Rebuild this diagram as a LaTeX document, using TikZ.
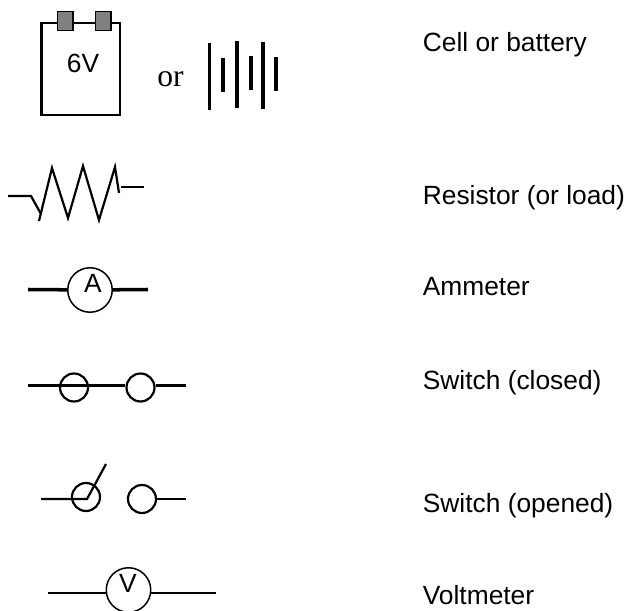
\documentclass[tikz,border=0pt]{standalone}
\usepackage{fontspec}
\setmainfont{Liberation Sans}
\newfontfamily\orfont{Liberation Serif}
\tikzset{
    wire/.style={line width=1.25pt, line cap=butt},
    meter/.style={circle, draw, line width=0.85pt, minimum size=0.89cm, inner sep=0pt},
    contact/.style={circle, draw, line width=1.25pt, minimum size=0.56cm, inner sep=0pt},
    caption/.style={anchor=base west, inner sep=0pt, font=\fontsize{15}{18}\selectfont},
    symboltext/.style={inner sep=0pt, font=\fontsize{15}{18}\selectfont},
    terminal/.style={draw, fill=black!50, line width=0.85pt, minimum width=0.31cm, minimum height=0.38cm, inner sep=0pt}
}
\begin{document}
\begin{tikzpicture}[x=0.02cm, y=-0.02cm]
        \useasboundingbox (0, 0) rectangle (629, 611);

        % Battery
        \node[draw, line width=1.25pt, minimum width=1.57cm, minimum height=1.84cm, inner sep=0pt] (cell) at (80.8, 69) {};
        \node[terminal] (T1) at (65.3, 20.8) {};
        \node[terminal] (T2) at (103.3, 20.8) {};
        \node[symboltext] (volts) at (83, 63) {6V};
        \node[anchor=base, inner sep=0pt, font=\orfont\fontsize{18}{21}\selectfont] (or) at (170.5, 87) {or};

        % Bars
        \foreach \x/\top/\bot in {209.5/43/110, 223/58/92, 237/41/108, 251/56/90, 263/42/109, 276/57/91}
            \draw[line width=2.2pt] (\x, \top) -- (\x, \bot);

        % Resistor
        \coordinate (R0) at (8, 196);
        \coordinate (R1) at (31, 196);
        \coordinate (R2) at (41, 214);
        \coordinate (R3) at (39, 221);
        \coordinate (R4) at (119, 193);
        \coordinate (R5) at (121, 187);
        \coordinate (R6) at (144, 187);
        \draw[wire] (R0) -- (R1) -- (R2);
        \draw[wire] (R3) -- (52, 168) -- (68, 218) -- (83, 166) -- (99, 220) -- (115, 167) -- (R4);
        \draw[wire] (R5) -- (R6);

        % Ammeter
        \node[meter] (A) at (90, 290) {};
        \node[symboltext] (Atext) at (93, 283) {A};
        \coordinate (AL) at (28, 289.5);
        \coordinate (AR) at (148, 289.5);
        \draw[line width=2pt] (AL) -- (A);
        \draw[line width=2pt] (A) -- (AR);

        % Closed switch
        \node[contact] (C1) at (74, 387.5) {};
        \node[contact] (C2) at (140.5, 387.5) {};
        \coordinate (CL) at (28, 385.5);
        \coordinate (CR) at (186, 385.5);
        \draw[wire] (CL) -- (CL -| C2.west);
        \draw[wire] (CR -| C2.east) -- (CR);

        % Opened switch
        \node[contact] (O1) at (86, 497) {};
        \node[contact] (O2) at (142, 499) {};
        \coordinate (OL) at (41, 499);
        \coordinate (OP) at (87, 499);
        \coordinate (OT) at (106, 464);
        \coordinate (OR) at (185.5, 499);
        \draw[wire] (OL) -- (OP) -- (OT);
        \draw[wire] (O2) -- (OR);

        % Voltmeter
        \node[meter] (V) at (128.5, 590) {};
        \node[symboltext] (Vtext) at (128, 583) {V};
        \coordinate (VL) at (48, 593);
        \coordinate (VR) at (216, 593);
        \draw[wire] (VL) -- (VL -| V.west);
        \draw[wire] (VR -| V.east) -- (VR);

        % Captions
        \node[caption] (L1) at (422.5, 51.7) {Cell or battery};
        \node[caption] (L2) at (422.5, 205) {Resistor (or load)};
        \node[caption] (L3) at (422.5, 296) {Ammeter};
        \node[caption] (L4) at (422.5, 389) {Switch (closed)};
        \node[caption] (L5) at (422.5, 512) {Switch (opened)};
        \node[caption] (L6) at (422.5, 604) {Voltmeter};
    \end{tikzpicture}
\end{document}
